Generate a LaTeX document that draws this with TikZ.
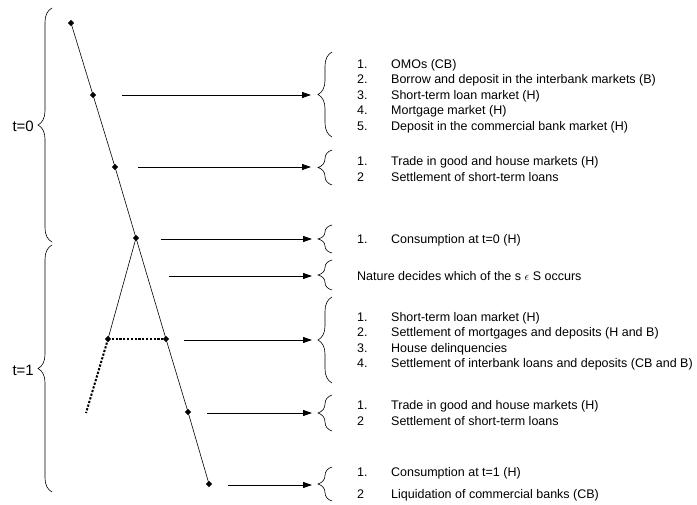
\documentclass[tikz,border=0pt]{standalone}
\usepackage{fontspec}
\setmainfont{Liberation Sans}
\usetikzlibrary{arrows.meta,decorations.pathreplacing,shapes.geometric}
\begin{document}
\begin{tikzpicture}[x=1pt,y=-1pt,
  dia/.style={diamond,fill=black,inner sep=0pt,minimum size=6.5pt},
  tl/.style={line width=0.6pt},
  dl/.style={line width=2pt,dash pattern=on 2.2pt off 1.6pt},
  arr/.style={line width=0.8pt,-{Triangle[length=9pt,width=6pt]}},
  br/.style={decorate,decoration={brace,amplitude=14pt},line width=0.6pt},
  txt/.style={anchor=base west,inner sep=0pt,font=\fontsize{12.5}{14}\selectfont},
  tlab/.style={anchor=east,inner sep=0pt,font=\fontsize{15}{17}\selectfont}]
\useasboundingbox (0,0) rectangle (697,505);
\fill[white] (0,0) rectangle (697,505);
% tree nodes
\node[dia] (p0) at (71,23) {};
\node[dia] (p1) at (93,95) {};
\node[dia] (p2) at (115,167) {};
\node[dia] (p3) at (136,238) {};
\node[dia] (q1) at (108,339) {};
\node[dia] (p4) at (166,339) {};
\node[dia] (p5) at (188,412) {};
\node[dia] (p6) at (209,484) {};
\coordinate (e1) at (86,413);
\draw[tl] (p0.center) -- (p1.center) -- (p2.center) -- (p3.center) -- (p4.center) -- (p5.center) -- (p6.center);
\draw[tl] (p3.center) -- (q1.center);
\draw[dl] (q1.center) -- (p4.center);
\draw[dl] (q1.center) -- (e1);
% arrows
\coordinate (a1s) at (122,95);  \coordinate (a1e) at (311,95);
\coordinate (a2s) at (138,167); \coordinate (a2e) at (311,167);
\coordinate (a3s) at (161,239); \coordinate (a3e) at (312,239);
\coordinate (a4s) at (169,276); \coordinate (a4e) at (312,276);
\coordinate (a5s) at (184,340); \coordinate (a5e) at (312,340);
\coordinate (a6s) at (207,413); \coordinate (a6e) at (312,413);
\coordinate (a7s) at (228,485); \coordinate (a7e) at (312,485);
\draw[arr] (a1s) -- (a1e);
\draw[arr] (a2s) -- (a2e);
\draw[arr] (a3s) -- (a3e);
\draw[arr] (a4s) -- (a4e);
\draw[arr] (a5s) -- (a5e);
\draw[arr] (a6s) -- (a6e);
\draw[arr] (a7s) -- (a7e);
% left braces
\draw[br] (52,242) -- (52,8);
\draw[br] (52,492) -- (52,245);
\node[tlab] (t0) at (34,126) {t=0};
\node[tlab] (t1) at (34,370) {t=1};
% right braces
\draw[br] (332,137) -- (332,52);
\draw[br] (332,185) -- (332,150);
\draw[br] (332,253) -- (332,225);
\draw[br] (332,290) -- (332,260);
\draw[br] (332,383) -- (332,297);
\draw[br] (332,431) -- (332,395);
\draw[br] (332,501) -- (332,467);
% texts group 1
\node[txt] (n11) at (357,68.5) {1.}; \node[txt] (s11) at (391,68.5) {OMOs (CB)};
\node[txt] (n12) at (357,84) {2.};   \node[txt] (s12) at (391,84) {Borrow and deposit in the interbank markets (B)};
\node[txt] (n13) at (357,99.5) {3.}; \node[txt] (s13) at (391,99.5) {Short-term loan market (H)};
\node[txt] (n14) at (357,115) {4.};  \node[txt] (s14) at (391,115) {Mortgage market (H)};
\node[txt] (n15) at (357,130.5) {5.};\node[txt] (s15) at (391,130.5) {Deposit in the commercial bank market (H)};
% group 2
\node[txt] (n21) at (357,165.5) {1.}; \node[txt] (s21) at (391,165.5) {Trade in good and house markets (H)};
\node[txt] (n22) at (357,181.5) {2};  \node[txt] (s22) at (391,181.5) {Settlement of short-term loans};
% group 3
\node[txt] (n31) at (357,243.5) {1.}; \node[txt] (s31) at (391,243.5) {Consumption at t=0 (H)};
% group 4
\node[txt] (s41) at (357,280.5) {Nature decides which of the s $\epsilon$ S occurs};
% group 5
\node[txt] (n51) at (357,321.5) {1.}; \node[txt] (s51) at (391,321.5) {Short-term loan market (H)};
\node[txt] (n52) at (357,337) {2.};   \node[txt] (s52) at (391,337) {Settlement of mortgages and deposits (H and B)};
\node[txt] (n53) at (357,352.5) {3.}; \node[txt] (s53) at (391,352.5) {House delinquencies};
\node[txt] (n54) at (357,368) {4.};   \node[txt] (s54) at (391,368) {Settlement of interbank loans and deposits (CB and B)};
% group 6
\node[txt] (n61) at (357,409.5) {1.}; \node[txt] (s61) at (391,409.5) {Trade in good and house markets (H)};
\node[txt] (n62) at (357,425.5) {2};  \node[txt] (s62) at (391,425.5) {Settlement of short-term loans};
% group 7
\node[txt] (n71) at (357,476.5) {1.}; \node[txt] (s71) at (391,476.5) {Consumption at t=1 (H)};
\node[txt] (n72) at (357,498.5) {2};  \node[txt] (s72) at (391,498.5) {Liquidation of commercial banks (CB)};
\end{tikzpicture}
\end{document}
